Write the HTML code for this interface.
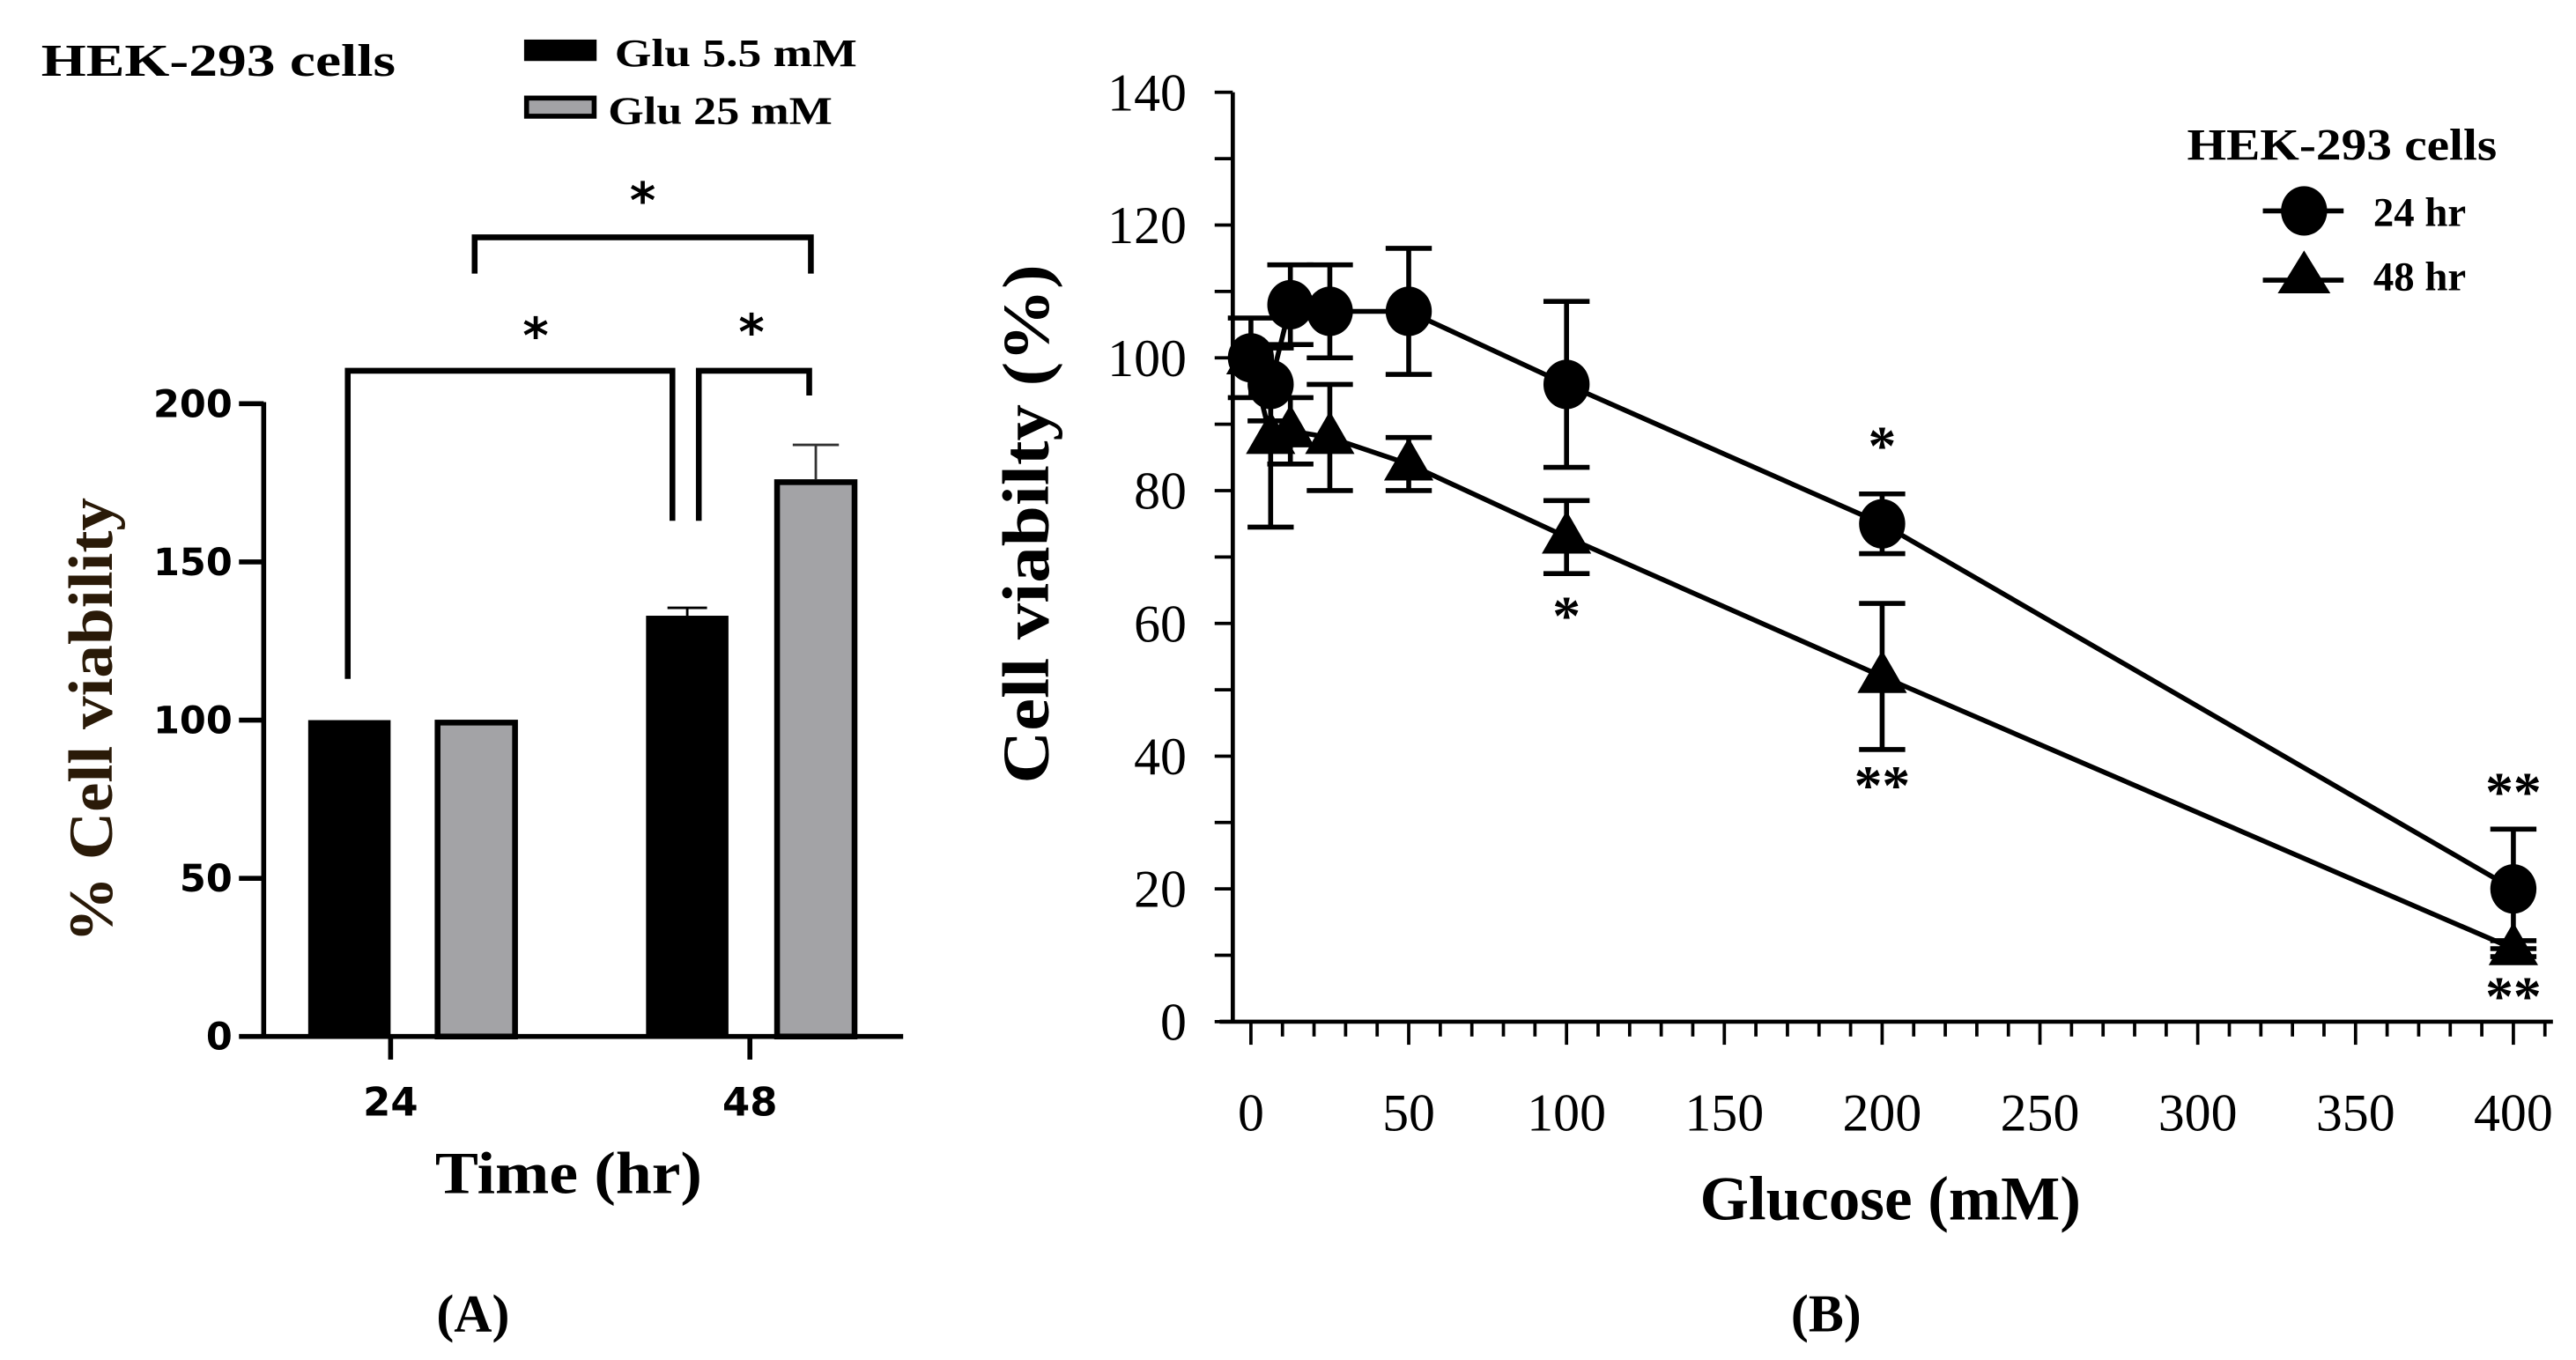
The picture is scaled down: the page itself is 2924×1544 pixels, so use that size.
<!DOCTYPE html>
<html><head><meta charset="utf-8"><style>
html,body{margin:0;padding:0;background:#fff}
svg{display:block}
</style></head><body>
<svg id="c" xmlns="http://www.w3.org/2000/svg" width="2924" height="1544" viewBox="0 0 1563 825.3">
<g id="A"></g>
<g id="B"></g>
</svg>
<script>
// Panel A data
const aGroups = ["24", "48"];
const aSeries = ["Glu 5.5 mM", "Glu 25 mM"];
const aVals55 = [100, 133];
const aVals25 = [100, 176];
const aErr55 = [0, 2.5];
const aErr25 = [0, 11];
const aTicks = [0, 50, 100, 150, 200];
// Panel B data
const bX = [0, 6.25, 12.5, 25, 50, 100, 200, 400];
const b24 = [100, 96, 108, 107, 107, 96, 75, 20];
const b24err = [6, 5.5, 6, 7, 9.5, 12.5, 4.5, 9];
const b48 = [100, 88, 89, 88, 84, 73, 52, 11];
const b48err = [0, 13.5, 5, 8, 4, 5.5, 11, 1.2];
const bYTicks = [0, 20, 40, 60, 80, 100, 120, 140];
const bXTicks = [0, 50, 100, 150, 200, 250, 300, 350, 400];

const NS = "http://www.w3.org/2000/svg";
function mk(parent, tag, attrs, text) {
  const e = document.createElementNS(NS, tag);
  for (const k in attrs) e.setAttribute(k, attrs[k]);
  if (text !== undefined) e.textContent = text;
  parent.appendChild(e);
  return e;
}
const A = document.getElementById('A');
const B = document.getElementById('B');
const SANS = "'DejaVu Sans','Liberation Sans',sans-serif";
const SERIF = "'Liberation Serif',serif";

// ---------- Panel A ----------
const ay = v => 629 - v * (384 / 200);
const aBarX55 = [187, 392], aBarX25 = [264, 470], aTickX = [237, 455];
let e;
e = mk(A, 'line', {x1:160, y1:ay(0), x2:548, y2:ay(0), stroke:'#000','stroke-width':3});
 
e = mk(A, 'line', {x1:160, y1:ay(200)-1, x2:160, y2:ay(0)+1.5, stroke:'#000','stroke-width':3});
 
aTicks.forEach(t => {
  e = mk(A, 'line', {x1:145, y1:ay(t), x2:160, y2:ay(t), stroke:'#000','stroke-width':3});
   
  e = mk(A, 'text', {x:141, y:ay(t)+8, 'text-anchor':'end', 'font-family':SANS, 'font-weight':'bold','font-size':23}, String(t));
   
});
aGroups.forEach((g, i) => {
  e = mk(A, 'line', {x1:aTickX[i], y1:ay(0), x2:aTickX[i], y2:ay(0)+14, stroke:'#000','stroke-width':3});
   
  e = mk(A, 'text', {x:aTickX[i], y:677, 'text-anchor':'middle', 'font-family':SANS, 'font-weight':'bold','font-size':24}, g);
   
  e = mk(A, 'rect', {x:aBarX55[i], y:ay(aVals55[i]), width:50, height:ay(0)-ay(aVals55[i]), fill:'#000'});
   
  if (aErr55[i] > 0) {
    const cx = aBarX55[i] + 25;
    e = mk(A, 'path', {d:`M${cx} ${ay(aVals55[i])} V${ay(aVals55[i]+aErr55[i])} M${cx-12} ${ay(aVals55[i]+aErr55[i])} H${cx+12}`, stroke:'#000','stroke-width':1.5, fill:'none'});
     
  }
  e = mk(A, 'rect', {x:aBarX25[i]+1.5, y:ay(aVals25[i])+1.5, width:47, height:ay(0)-ay(aVals25[i])-1.5, fill:'#a3a3a6', stroke:'#000','stroke-width':3.5});
   
  if (aErr25[i] > 0) {
    const cx = aBarX25[i] + 25;
    e = mk(A, 'path', {d:`M${cx} ${ay(aVals25[i])} V${ay(aVals25[i]+aErr25[i])} M${cx-14} ${ay(aVals25[i]+aErr25[i])} H${cx+14}`, stroke:'#333','stroke-width':1.5, fill:'none'});
     
  }
});
const brk = [
  {d:'M211 412 V225 H408 V316', sx:325, sy:214},
  {d:'M424 316 V225 H491 V240', sx:456, sy:212},
  {d:'M288 166 V144 H492 V166', sx:390, sy:132}
];
brk.forEach((b, i) => {
  e = mk(A, 'path', {d:b.d, stroke:'#000','stroke-width':3.5, fill:'none'});
   
  e = mk(A, 'text', {x:b.sx, y:b.sy, 'text-anchor':'middle','font-family':SANS,'font-weight':'bold','font-size':30}, '*');
   
});
e = mk(A, 'text', {x:25, y:46, 'font-family':SERIF,'font-weight':'bold','font-size':28, textLength:215, lengthAdjust:'spacingAndGlyphs'}, 'HEK-293 cells');
 
e = mk(A, 'rect', {x:318, y:24, width:44, height:13, fill:'#000'});
 
e = mk(A, 'text', {x:373, y:40, 'font-family':SERIF,'font-weight':'bold','font-size':24, textLength:147, lengthAdjust:'spacingAndGlyphs'}, aSeries[0]);
 
e = mk(A, 'rect', {x:319.5, y:59.5, width:41, height:11, fill:'#a3a3a6', stroke:'#000','stroke-width':3});
 
e = mk(A, 'text', {x:369, y:75, 'font-family':SERIF,'font-weight':'bold','font-size':24, textLength:136, lengthAdjust:'spacingAndGlyphs'}, aSeries[1]);
 
e = mk(A, 'text', {x:0, y:0, transform:'translate(68 437) rotate(-90)', 'text-anchor':'middle','font-family':SERIF,'font-weight':'bold','font-size':38, fill:'#2a1a08', textLength:270, lengthAdjust:'spacingAndGlyphs'}, '% Cell viability');
 
e = mk(A, 'text', {x:345, y:724, 'text-anchor':'middle','font-family':SERIF,'font-weight':'bold','font-size':36, textLength:162, lengthAdjust:'spacingAndGlyphs'}, 'Time (hr)');
 
e = mk(A, 'text', {x:287, y:808, 'text-anchor':'middle','font-family':SERIF,'font-weight':'bold','font-size':32}, '(A)');
 

// ---------- Panel B ----------
const bx = v => 759 + v * (766 / 400);
const by = v => 620 - v * (564 / 140);
e = mk(B, 'line', {x1:740, y1:620, x2:1549, y2:620, stroke:'#000','stroke-width':2.5});
 
e = mk(B, 'line', {x1:748, y1:by(140), x2:748, y2:620, stroke:'#000','stroke-width':2.5});
 
for (let v = 0; v <= 140; v += 10) {
  e = mk(B, 'line', {x1:737, y1:by(v), x2:748, y2:by(v), stroke:'#000','stroke-width':2});
   
}
bYTicks.forEach(t => {
  e = mk(B, 'text', {x:720, y:by(t)+11, 'text-anchor':'end','font-family':SERIF,'font-size':32}, String(t));
   
});
for (let v = 0; v <= 410; v += 10) {
  const major = v % 50 === 0;
  e = mk(B, 'line', {x1:bx(v), y1:620, x2:bx(v), y2:major ? 634 : 629, stroke:'#000','stroke-width':2});
   
}
bXTicks.forEach(t => {
  e = mk(B, 'text', {x:bx(t), y:686, 'text-anchor':'middle','font-family':SERIF,'font-size':32}, String(t));
   
});
function series(vals, errs, name, marker) {
  e = mk(B, 'polyline', {points: bX.map((x, i) => bx(x) + ',' + by(vals[i])).join(' '), fill:'none', stroke:'#000','stroke-width':3});
   
  bX.forEach((x, i) => {
    const cx = bx(x), cy = by(vals[i]);
    if (errs[i] > 0) {
      const t = by(vals[i] + errs[i]), b = by(vals[i] - errs[i]);
      e = mk(B, 'path', {d:`M${cx} ${t} V${b} M${cx-14} ${t} H${cx+14} M${cx-14} ${b} H${cx+14}`, stroke:'#000','stroke-width':3, fill:'none'});
       
    }
    if (marker === 'circle') e = mk(B, 'ellipse', {cx:cx, cy:cy, rx:14, ry:15, fill:'#000'});
    else e = mk(B, 'polygon', {points:`${cx},${cy-16} ${cx-15},${cy+10} ${cx+15},${cy+10}`, fill:'#000'});
     
  });
}
series(b48, b48err, '48hr', 'triangle');
series(b24, b24err, '24hr', 'circle');
const stars = [[200, 282, '*'], [100, 385, '*'], [200, 488, '**'], [400, 492, '**'], [400, 616, '**']];
stars.forEach(s => {
  e = mk(B, 'text', {x:bx(s[0]), y:s[1], 'text-anchor':'middle','font-family':SERIF,'font-weight':'bold','font-size':34}, s[2]);
   
});
e = mk(B, 'text', {x:1515, y:97, 'text-anchor':'end','font-family':SERIF,'font-weight':'bold','font-size':27, textLength:188, lengthAdjust:'spacingAndGlyphs'}, 'HEK-293 cells');
 
e = mk(B, 'line', {x1:1373, y1:128, x2:1422, y2:128, stroke:'#000','stroke-width':3});
 
e = mk(B, 'ellipse', {cx:1398, cy:128, rx:14, ry:15, fill:'#000'});
 
e = mk(B, 'text', {x:1440, y:137, 'font-family':SERIF,'font-weight':'bold','font-size':25}, '24 hr');
 
e = mk(B, 'line', {x1:1373, y1:170, x2:1422, y2:170, stroke:'#000','stroke-width':3});
 
e = mk(B, 'polygon', {points:'1398,152 1382,178 1414,178', fill:'#000'});
 
e = mk(B, 'text', {x:1440, y:176, 'font-family':SERIF,'font-weight':'bold','font-size':25}, '48 hr');
 
e = mk(B, 'text', {x:0, y:0, transform:'translate(636 318) rotate(-90)', 'text-anchor':'middle','font-family':SERIF,'font-weight':'bold','font-size':40, textLength:315, lengthAdjust:'spacingAndGlyphs'}, 'Cell viabilty (%)');
 
e = mk(B, 'text', {x:1147, y:740, 'text-anchor':'middle','font-family':SERIF,'font-weight':'bold','font-size':38}, 'Glucose (mM)');
 
e = mk(B, 'text', {x:1108, y:808, 'text-anchor':'middle','font-family':SERIF,'font-weight':'bold','font-size':32}, '(B)');
 
</script>
</body></html>
